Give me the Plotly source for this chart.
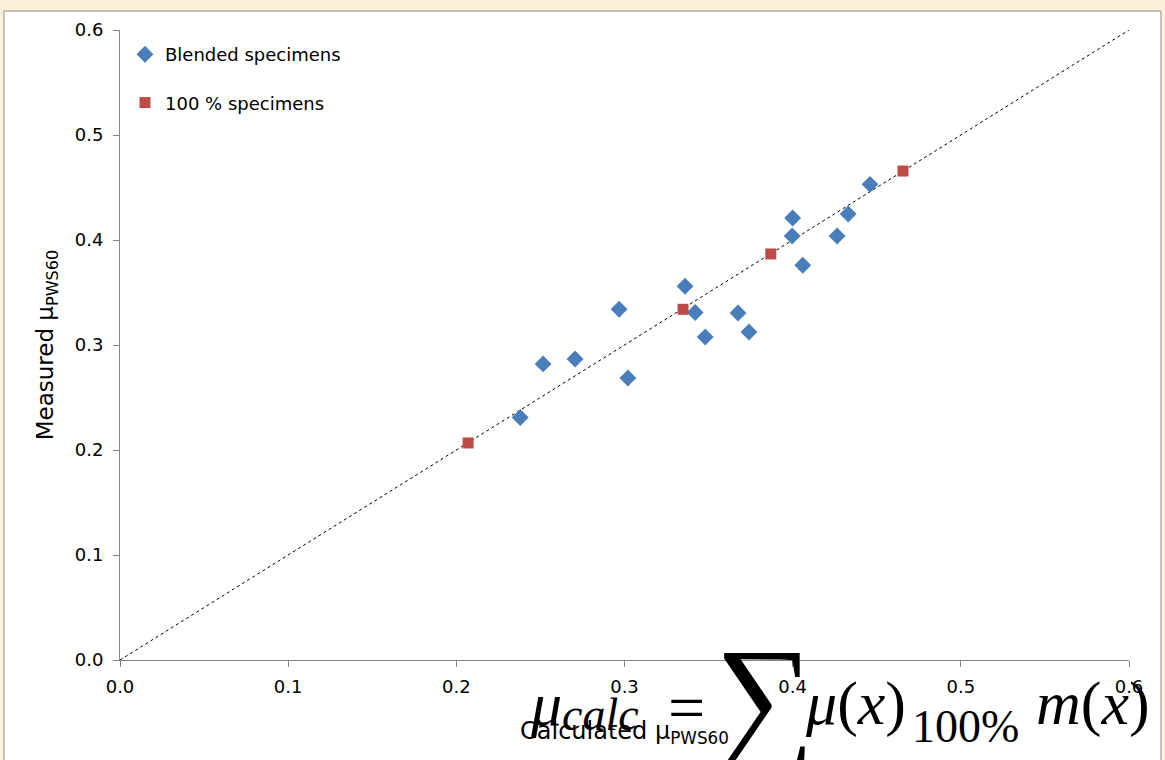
import plotly.graph_objects as go

# Data
blended_x = [0.238, 0.2516, 0.2706, 0.2968, 0.302, 0.336, 0.342, 0.348, 0.3675, 0.374,
             0.400, 0.3997, 0.406, 0.4264, 0.433, 0.446]
blended_y = [0.231, 0.282, 0.2867, 0.334, 0.2686, 0.356, 0.331, 0.3076, 0.3305, 0.3124,
             0.421, 0.4038, 0.376, 0.4038, 0.4248, 0.453]
pure_x = [0.207, 0.3348, 0.387, 0.4656]
pure_y = [0.2067, 0.334, 0.3867, 0.4657]
diag_x = [0.0, 0.6]
diag_y = [0.0, 0.6]
tick_vals = [0.0, 0.1, 0.2, 0.3, 0.4, 0.5, 0.6]

W, H = 1165, 760
L, R, T, B = 120, 36, 30, 100
pw, ph = W - L - R, H - T - B

def px_x(p):
    return (p - L) / pw

def px_y(p):
    return (H - B - p) / ph

fig = go.Figure()
fig.add_trace(go.Scatter(x=diag_x, y=diag_y, mode="lines", showlegend=False,
                         line=dict(color="black", width=1, dash="3px,3px"), hoverinfo="skip"))
fig.add_trace(go.Scatter(x=blended_x, y=blended_y, mode="markers", name="Blended specimens",
                         legendgroup="a",
                         marker=dict(symbol="diamond", size=13, color="#4A7EBB")))
fig.add_trace(go.Scatter(x=pure_x, y=pure_y, mode="markers", name="100 % specimens",
                         legendgroup="b",
                         marker=dict(symbol="square", size=11, color="#BE4B48")))

axis_common = dict(range=[0, 0.6], tickvals=tick_vals, tickformat=".1f", showgrid=False,
                   zeroline=False, showline=True, linecolor="#868686", linewidth=1,
                   ticks="outside", ticklen=6, tickcolor="#868686",
                   tickfont=dict(family="DejaVu Sans", size=18, color="black"))

fig.update_layout(
    width=W, height=H,
    margin=dict(l=L, r=R, t=T, b=B, autoexpand=False),
    paper_bgcolor="#FEEFD9", plot_bgcolor="white",
    font=dict(family="DejaVu Sans", color="black"),
    xaxis=dict(**axis_common, ticklabelstandoff=4,
               title=dict(text="Calculated μ<sub>PWS60</sub>", standoff=26,
                          font=dict(family="DejaVu Sans", size=24))),
    yaxis=dict(**axis_common, ticklabelstandoff=6,
               title=dict(text="Measured μ<sub>PWS60</sub>", standoff=14,
                          font=dict(family="DejaVu Sans", size=23))),
    legend=dict(x=px_x(125), y=px_y(36), xanchor="left", yanchor="top",
                bgcolor="rgba(0,0,0,0)", tracegroupgap=22,
                font=dict(family="DejaVu Sans", size=18)),
    showlegend=True,
)

# white chart box with border
fig.add_shape(type="rect", xref="paper", yref="paper",
              x0=px_x(4), x1=px_x(1161), y0=px_y(775), y1=px_y(11),
              fillcolor="white", line=dict(color="#8C8C8C", width=1), layer="below")

# Formula overlay
ff = "Liberation Serif"

def formula(text, left, center_y, size):
    fig.add_annotation(xref="paper", yref="paper", x=px_x(left), y=px_y(center_y),
                       xanchor="left", yanchor="middle", showarrow=False,
                       text=text, font=dict(family=ff, size=size, color="black"))

formula("<i>μ</i>", 528, 704, 62)
formula("<i>calc</i>", 560, 714, 46)
formula("=", 666, 707, 66)
formula("∑", 713, 697, 140)
formula("<i>μ</i>(<i>x</i>)", 803, 703, 62)
formula("100%", 910, 726, 46)
formula("<i>m</i>(<i>x</i>)", 1034, 703, 62)

fig.write_html("out.html", post_script="document.body.style.margin='0';",
               config={"displayModeBar": False})
